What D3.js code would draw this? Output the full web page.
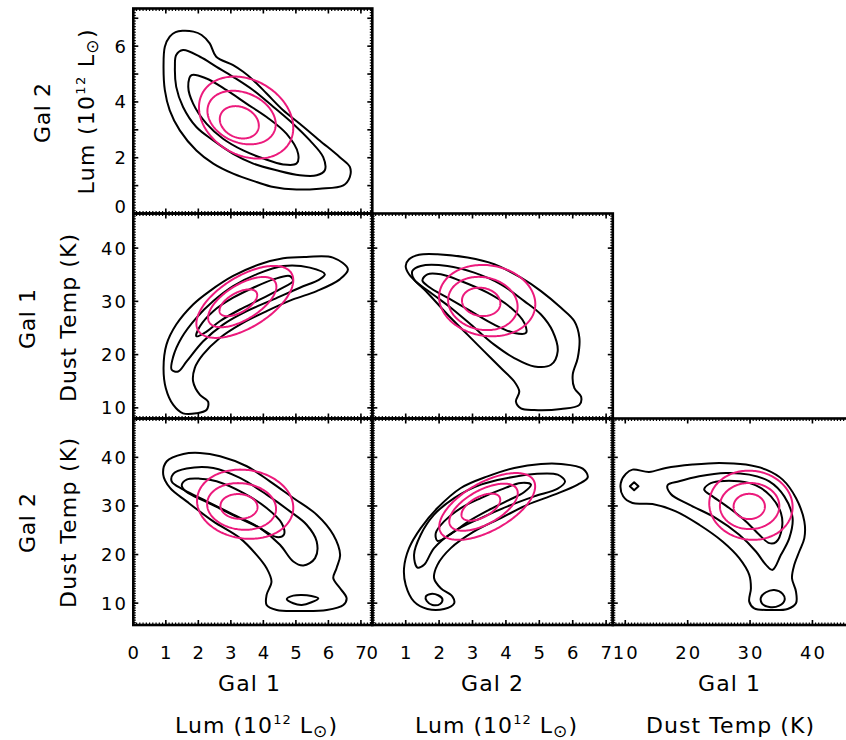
<!DOCTYPE html>
<html><head><meta charset="utf-8">
<script src="https://cdn.jsdelivr.net/npm/d3@7"></script>
<style>body{margin:0;background:#fff}svg{display:block}</style>
</head><body><svg id="c" width="846" height="740"></svg>
<script>
// ---------- tick labels ----------
const lumTicksBottom = [0,1,2,3,4,5,6,7];
const lumTicksLeft = [0,2,4,6];
const tempTicks = [10,20,30,40];

// ---------- contour data (x, y in data units) ----------
// Panel A: Gal1 Lum (x) vs Gal2 Lum (y)
const contA1 = [[1.51,6.55],[1.85,6.52],[2.10,6.40],[2.35,6.10],[2.55,5.62],[3.07,5.32],[3.38,5.08],[3.69,4.78],[4.10,4.30],[4.61,3.70],[5.12,3.22],[5.73,2.62],[6.35,2.02],[6.66,1.67],[6.66,1.31],[6.46,1.01],[5.73,0.89],[5.02,0.86],[4.31,0.95],[3.79,1.13],[3.07,1.43],[2.46,1.79],[1.94,2.26],[1.43,2.98],[1.12,3.70],[0.97,4.42],[0.93,5.26],[0.97,5.98],[1.12,6.34],[1.30,6.50]];
const contA2 = [[1.53,5.86],[2.05,5.62],[2.56,5.26],[3.07,4.90],[3.69,4.42],[4.31,3.82],[4.91,3.22],[5.43,2.62],[5.84,2.02],[5.89,1.55],[5.64,1.37],[5.12,1.37],[4.40,1.55],[3.69,1.79],[3.07,2.14],[2.46,2.62],[1.94,3.10],[1.53,3.82],[1.32,4.54],[1.28,5.26],[1.32,5.68]];
const contA3 = [[1.79,4.96],[2.25,4.84],[2.87,4.42],[3.48,3.94],[4.10,3.46],[4.71,2.86],[5.07,2.14],[5.02,1.79],[4.61,1.76],[4.00,1.97],[3.38,2.26],[2.76,2.68],[2.25,3.22],[1.84,3.94],[1.69,4.54]];
// Panel B: Gal1 Lum (x) vs Gal1 Temp (y)
const contB1 = [[6.14,38.22],[6.60,36.02],[6.35,34.13],[5.64,31.93],[4.91,30.36],[4.10,28.16],[3.28,25.64],[2.66,23.13],[2.14,19.98],[1.89,17.47],[1.84,14.95],[2.05,12.43],[2.30,11.18],[2.25,9.60],[1.94,8.97],[1.53,8.97],[1.23,10.55],[1.00,13.69],[0.93,17.47],[1.02,21.87],[1.32,25.64],[1.84,29.42],[2.35,31.93],[3.07,34.77],[3.89,36.97],[4.61,38.10],[5.32,38.35]];
const contB2 = [[4.61,36.65],[5.43,36.34],[5.89,35.08],[5.73,34.13],[5.12,32.56],[4.31,30.36],[3.49,28.16],[2.76,25.64],[2.15,22.50],[1.64,18.72],[1.38,16.84],[1.18,17.15],[1.23,19.67],[1.48,23.13],[1.94,26.90],[2.46,30.05],[3.07,32.87],[3.79,35.08]];
const contB3 = [[1.94,23.44],[2.05,25.33],[2.46,28.16],[3.07,30.68],[3.69,32.56],[4.31,34.13],[4.81,34.77],[4.91,33.82],[4.50,32.25],[3.90,30.36],[3.28,28.47],[2.66,26.27],[2.19,24.07]];
// Panel C: Gal2 Lum (x) vs Gal1 Temp (y)
const contC1 = [[1.95,38.85],[1.40,38.75],[1.10,37.90],[1.00,36.65],[1.10,35.08],[1.65,31.62],[2.25,27.53],[2.85,23.75],[3.35,20.61],[3.85,17.47],[4.25,14.95],[4.40,13.06],[4.30,11.18],[4.45,9.92],[4.85,9.60],[5.65,9.79],[6.20,10.55],[6.25,12.12],[6.05,13.69],[6.00,16.21],[6.15,19.36],[6.20,23.13],[6.05,26.27],[5.65,28.79],[5.05,31.93],[4.45,34.45],[3.65,36.97],[2.85,38.22]];
const contC2 = [[1.45,36.65],[1.20,35.71],[1.25,34.13],[1.75,31.62],[2.35,28.79],[2.95,25.64],[3.65,21.87],[4.25,19.36],[4.85,17.78],[5.35,18.09],[5.55,20.61],[5.40,24.38],[5.05,27.53],[4.55,30.05],[3.85,33.19],[3.05,35.39],[2.25,36.65]];
const contC3 = [[1.65,35.08],[1.50,33.94],[1.70,32.69],[2.25,30.68],[2.95,28.16],[3.65,25.64],[4.25,24.07],[4.60,24.07],[4.55,25.96],[4.15,28.79],[3.45,31.62],[2.65,33.82],[2.05,35.08]];
// Panel D: Gal1 Lum (x) vs Gal2 Temp (y)
const contD1 = [[2.05,40.92],[1.54,40.71],[1.03,39.20],[0.92,36.45],[1.13,33.70],[1.64,30.95],[2.46,26.82],[3.28,23.38],[3.79,19.94],[4.10,17.19],[4.25,14.44],[4.10,11.69],[4.10,9.63],[4.41,8.59],[5.13,8.39],[5.95,8.59],[6.46,9.63],[6.56,11.00],[6.36,13.07],[6.15,15.13],[6.25,17.19],[6.36,19.94],[6.15,24.07],[5.64,28.20],[4.92,31.63],[4.20,35.07],[3.49,38.17],[2.67,40.23]];
const contD2 = [[2.46,37.82],[1.64,37.69],[1.23,36.59],[1.18,35.07],[1.54,33.35],[2.26,30.95],[3.08,28.20],[3.90,25.45],[4.51,22.01],[4.92,18.57],[5.23,17.74],[5.59,19.26],[5.64,22.69],[5.33,26.13],[4.82,28.88],[4.10,32.32],[3.28,35.76]];
const contD3 = [[2.05,35.62],[1.64,35.42],[1.49,34.25],[1.64,32.87],[2.26,30.81],[3.08,28.06],[3.90,25.45],[4.41,23.59],[4.63,24.07],[4.56,26.48],[4.10,29.57],[3.38,32.67],[2.56,35.07]];
const contD4 = [[4.72,10.86],[4.92,11.55],[5.18,11.69],[5.48,11.48],[5.69,11.00],[5.48,10.18],[5.18,9.63],[4.92,9.97]];
// Panel E: Gal2 Lum (x) vs Gal2 Temp (y)
const contE1 = [[5.05,38.65],[5.65,38.65],[6.30,37.69],[6.45,35.90],[6.15,34.39],[5.45,32.32],[4.65,30.26],[3.85,27.51],[3.05,24.76],[2.35,21.32],[1.95,17.88],[1.85,15.13],[2.05,13.07],[2.40,11.35],[2.45,9.97],[2.15,8.80],[1.65,8.80],[1.25,10.31],[1.00,13.75],[0.95,17.19],[1.10,21.32],[1.45,25.45],[1.95,29.57],[2.65,33.70],[3.45,36.10],[4.25,37.82]];
const contE2 = [[4.85,36.59],[5.55,36.45],[5.77,35.07],[5.55,33.56],[4.85,31.98],[4.05,29.92],[3.25,27.51],[2.45,24.76],[1.85,21.32],[1.55,17.88],[1.35,17.33],[1.25,19.94],[1.45,24.07],[1.85,28.20],[2.45,31.63],[3.25,34.39],[4.05,35.76]];
const contE3 = [[1.95,22.83],[1.90,24.41],[2.15,26.82],[2.65,29.57],[3.25,31.63],[3.85,33.35],[4.45,34.73],[4.75,34.39],[4.55,32.87],[4.05,31.08],[3.45,29.02],[2.85,26.68],[2.35,24.21]];
const contE4 = [[1.60,11.35],[1.75,11.90],[1.97,11.62],[2.10,10.80],[2.03,9.83],[1.80,9.63],[1.63,10.45]];
// Panel F: Gal1 Temp (x) vs Gal2 Temp (y)
const contF1 = [[11.16,37.48],[13.83,37.0],[16.50,37.82],[20.78,38.51],[25.06,38.86],[29.34,38.51],[32.55,37.48],[35.22,35.42],[37.36,31.63],[38.70,26.82],[38.70,23.38],[37.89,20.63],[37.09,17.88],[36.72,15.13],[37.36,12.38],[37.36,9.97],[36.02,8.80],[33.08,8.59],[30.67,8.94],[29.87,10.31],[30.14,13.07],[29.87,15.82],[28.27,19.26],[25.59,22.69],[21.85,26.13],[18.11,28.88],[14.36,30.40],[11.16,30.60],[9.66,31.98],[9.28,34.73],[10.09,36.59]];
const contF2 = [[16.77,34.25],[18.64,35.07],[21.85,36.10],[26.13,36.79],[29.87,36.45],[33.08,35.07],[35.49,31.98],[36.82,27.51],[36.29,23.38],[34.95,19.94],[33.61,16.85],[32.55,17.88],[30.94,20.63],[28.27,24.07],[24.52,27.51],[20.25,30.26],[17.30,32.46]];
const contF3 = [[23.45,34.52],[25.06,35.07],[28.27,35.07],[30.94,34.25],[33.35,31.98],[34.95,28.54],[35.11,25.45],[34.15,22.56],[33.08,22.35],[31.48,24.07],[29.34,26.82],[26.66,29.57],[23.99,31.98],[22.65,33.35]];
const contF4 = [[10.73,34.04],[11.42,34.87],[12.12,34.04],[11.42,33.22]];
const contF5 = [[31.74,11.14],[32.55,12.24],[33.88,12.72],[35.22,11.90],[35.54,10.66],[34.68,9.49],[33.08,9.21],[31.90,9.97]];

// ---------- Gaussian ellipses: [cx, cy, halfWidthX, halfHeightY, correlation] ----------
const ellA = [[3.47,3.44,1.45,1.47,-0.25],[3.33,3.44,1.05,0.96,-0.25],[3.26,3.27,0.60,0.58,-0.2]];
const ellB = [[3.43,29.9,1.49,6.76,0.6],[3.35,29.86,1.05,4.72,0.62],[3.23,29.73,0.58,2.52,0.58]];
const ellC = [[3.44,30.14,1.44,6.70,-0.1],[3.31,29.6,1.04,5.0,-0.12],[3.26,29.9,0.575,2.67,-0.1]];
const ellD = [[3.44,30.36,1.48,7.12,-0.1],[3.33,29.9,1.06,4.8,-0.1],[3.25,29.9,0.57,2.55,-0.05]];
const ellE = [[3.44,29.9,1.435,6.88,0.6],[3.33,29.74,1.025,4.85,0.6],[3.25,29.75,0.58,2.79,0.55]];
const ellF = [[30.14,30.15,6.68,7.12,-0.05],[29.93,29.99,4.76,4.75,0],[29.87,29.9,2.51,2.6,0]];

// ---------- scales ----------
const xLum1 = d3.scaleLinear([0,7.35],[133.3,372.3]);
const xLum2 = d3.scaleLinear([0,7.2],[372.3,612.8]);
const xTemp3 = d3.scaleLinear([8,46.5],[612.8,853]);
const yLum1 = d3.scaleLinear([0,7.35],[213.5,8.5]);
const yTemp2 = d3.scaleLinear([8,46.5],[418.5,213.5]);
const yTemp3 = d3.scaleLinear([5.5,48],[625,418.5]);

const svg = d3.select('#c');
const BLACK = '#000', MAG = '#ec1a7c';
const FONT = 'DejaVu Sans, Verdana, sans-serif';

const panels = [
  {id:'A', xs:xLum1, ys:yLum1, xMinor:0.1, yMinor:0.1, xMajor:lumTicksBottom, yMajor:lumTicksLeft.concat([1,3,5,7]), conts:[contA1,contA2,contA3], ells:ellA},
  {id:'B', xs:xLum1, ys:yTemp2, xMinor:0.1, yMinor:0.5, xMajor:lumTicksBottom, yMajor:tempTicks, conts:[contB1,contB2,contB3], ells:ellB},
  {id:'C', xs:xLum2, ys:yTemp2, xMinor:0.1, yMinor:0.5, xMajor:lumTicksBottom, yMajor:tempTicks, conts:[contC1,contC2,contC3], ells:ellC},
  {id:'D', xs:xLum1, ys:yTemp3, xMinor:0.1, yMinor:0.5, xMajor:lumTicksBottom, yMajor:tempTicks, conts:[contD1,contD2,contD3,contD4], ells:ellD},
  {id:'E', xs:xLum2, ys:yTemp3, xMinor:0.1, yMinor:0.5, xMajor:lumTicksBottom, yMajor:tempTicks, conts:[contE1,contE2,contE3,contE4], ells:ellE},
  {id:'F', xs:xTemp3, ys:yTemp3, xMinor:0.5, yMinor:0.5, xMajor:tempTicks, yMajor:tempTicks, conts:[contF1,contF2,contF3,contF4,contF5], ells:ellF}
];

const defs = svg.append('defs');

function ellipsePts(e){
  const [cx,cy,sx,sy,r] = e;
  const q = Math.sqrt(1-r*r);
  return d3.range(0, 2*Math.PI, Math.PI/90).map(t => [cx + sx*Math.cos(t), cy + sy*(r*Math.cos(t) + q*Math.sin(t))]);
}

panels.forEach(p => {
  const [x0,x1] = p.xs.range(), [y1,y0] = p.ys.range();
  defs.append('clipPath').attr('id','clip'+p.id).append('rect')
    .attr('x',x0).attr('y',y0).attr('width',x1-x0).attr('height',y1-y0);
  const g = svg.append('g').attr('clip-path','url(#clip'+p.id+')');
  const smooth = d3.line().x(d=>p.xs(d[0])).y(d=>p.ys(d[1])).curve(d3.curveCatmullRomClosed.alpha(0.5));
  const straight = d3.line().x(d=>p.xs(d[0])).y(d=>p.ys(d[1])).curve(d3.curveLinearClosed);
  p.conts.forEach(c => {
    g.append('path').attr('d', c.length <= 4 ? straight(c) : smooth(c))
      .attr('fill','none').attr('stroke',BLACK).attr('stroke-width',2).attr('stroke-linejoin','round');
  });
  p.ells.forEach(e => {
    g.append('path').attr('d', straight(ellipsePts(e)))
      .attr('fill','none').attr('stroke',MAG).attr('stroke-width',2);
  });
});

// frames & ticks
panels.forEach(p => {
  const [x0,x1] = p.xs.range(), [y1,y0] = p.ys.range();
  const g = svg.append('g');
  const xd = p.xs.domain(), yd = p.ys.domain();
  const xMin = d3.range(Math.ceil(xd[0]/p.xMinor)*p.xMinor, xd[1], p.xMinor);
  const yMin = d3.range(Math.ceil(yd[0]/p.yMinor)*p.yMinor, yd[1], p.yMinor);
  const tick = (xa,ya,xb,yb,w) => g.append('line').attr('x1',xa).attr('y1',ya).attr('x2',xb).attr('y2',yb).attr('stroke',BLACK).attr('stroke-width',w);
  xMin.forEach(v => { const x = p.xs(v); tick(x,y1,x,y1-2.5,1.2); tick(x,y0,x,y0+2.5,1.2); });
  yMin.forEach(v => { const y = p.ys(v); tick(x0,y,x0+2.5,y,1.2); tick(x1,y,x1-2.5,y,1.2); });
  p.xMajor.forEach(v => { const x = p.xs(v); tick(x,y1,x,y1-5,1.6); tick(x,y0,x,y0+5,1.6); });
  p.yMajor.forEach(v => { const y = p.ys(v); tick(x0,y,x0+5,y,1.6); tick(x1,y,x1-5,y,1.6); });
  g.append('rect').attr('x',x0).attr('y',y0).attr('width',x1-x0).attr('height',y1-y0)
    .attr('fill','none').attr('stroke',BLACK).attr('stroke-width',2.6);
});

// tick labels
const lab = svg.append('g').attr('font-family',FONT).attr('font-size',18).attr('fill','#000');
function tl(x,y,t,anchor){
  const el = lab.append('text').attr('x',x).attr('y',y).attr('text-anchor',anchor).text(t);
  if (String(t).length > 1) el.attr('textLength',25).attr('lengthAdjust','spacing');
}
lumTicksBottom.forEach(v => tl(xLum1(v), 659, v, 'middle'));
lumTicksBottom.forEach(v => tl(xLum2(v), 659, v, 'middle'));
tempTicks.forEach(v => tl(xTemp3(v), 659, v, 'middle'));
lumTicksLeft.forEach(v => tl(126, yLum1(v) + 6.5 - (v===0 ? 7 : 0), v, 'end'));
tempTicks.forEach(v => tl(126, yTemp2(v) + 6.5, v, 'end'));
tempTicks.forEach(v => tl(126, yTemp3(v) + 6.5, v, 'end'));

// titles
const tt = svg.append('g').attr('font-family',FONT).attr('font-size',22).attr('fill','#000');
function lumTitle(sel){
  sel.append('tspan').text('Lum (10');
  sel.append('tspan').attr('font-size',13).attr('dy',-9).text('12');
  sel.append('tspan').attr('dy',9).text(' L');
  sel.append('tspan').attr('font-size',17).attr('dy',4).text('\u2299');
  sel.append('tspan').attr('dy',-4).text(')');
}
function title(x,y,rot,len,fn){
  const t = tt.append('text').attr('text-anchor','middle')
    .attr('transform',`translate(${x},${y}) rotate(${rot})`)
    .attr('textLength',len).attr('lengthAdjust','spacing');
  if (typeof fn === 'string') t.text(fn); else fn(t);
}
// bottom
title(249,691,0,62,'Gal 1');
title(492,691,0,62,'Gal 2');
title(729,691,0,62,'Gal 1');
title(256,733,0,162,lumTitle);
title(496,733,0,162,lumTitle);
title(730,733,0,168,'Dust Temp (K)');
// left
title(50,113,-90,60,'Gal 2');
title(94,112,-90,165,lumTitle);
title(35,319,-90,60,'Gal 1');
title(76,318,-90,168,'Dust Temp (K)');
title(35,523,-90,60,'Gal 2');
title(76,523,-90,170,'Dust Temp (K)');
</script></body></html>
